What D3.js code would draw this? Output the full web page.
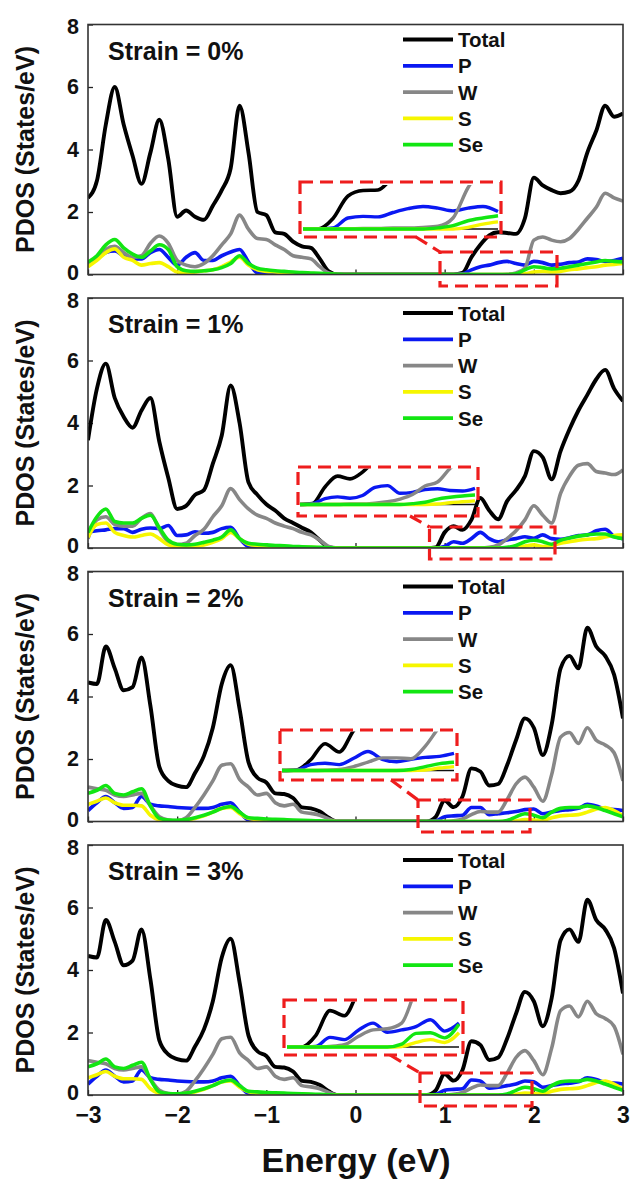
<!DOCTYPE html>
<html>
<head>
<meta charset="utf-8">
<script src="https://cdn.jsdelivr.net/npm/d3@7"></script>
<style>
  body { margin: 0; background: #fff; }
  svg { display: block; }
  text { font-family: Arial, "Liberation Sans", sans-serif; font-weight: bold; fill: #111; }
</style>
</head>
<body>
<div id="chart"></div>
<script>
// energy grid (eV)
const energy = [-3,-2.9,-2.8,-2.7,-2.6,-2.5,-2.4,-2.3,-2.2,-2.1,
  -2,-1.9,-1.8,-1.7,-1.6,-1.5,-1.4,-1.3,-1.2,-1.1,
  -1,-0.9,-0.8,-0.7,-0.6,-0.5,-0.4,-0.3,-0.2,-0.1,
  0,0.1,0.2,0.3,0.4,0.5,0.6,0.7,0.8,0.9,
  1,1.1,1.2,1.3,1.4,1.5,1.6,1.7,1.8,1.9,
  2,2.1,2.2,2.3,2.4,2.5,2.6,2.7,2.8,2.9,
  3];

// Strain = 0%
const total0 = [2.45,3.0,4.8,6.0,4.8,3.8,2.9,3.9,4.95,3.7,
  1.85,2.05,1.85,1.75,2.2,2.7,3.4,5.4,3.9,2.0,
  1.9,1.35,1.3,1.05,0.9,0.85,0.5,0.1,0,0,
  0,0,0,0,0,0,0,0,0,0,
  0,0,0.05,0.55,0.95,1.25,1.35,1.33,1.3,1.8,
  3.1,2.85,2.7,2.6,2.65,3.0,3.9,4.6,5.4,5.05,
  5.15];
const p0 = [0.35,0.5,0.7,0.75,0.6,0.5,0.5,0.7,0.8,0.55,
  0.3,0.55,0.7,0.45,0.45,0.6,0.72,0.8,0.4,0.05,
  0.02,0,0,0,0,0,0,0,0,0,
  0,0,0,0,0,0,0,0,0,0,
  0,0,0.02,0.15,0.25,0.3,0.38,0.42,0.35,0.3,
  0.42,0.38,0.3,0.33,0.38,0.4,0.5,0.48,0.42,0.45,
  0.52];
const w0 = [0.3,0.5,0.8,0.9,0.7,0.55,0.6,1.0,1.23,1.0,
  0.45,0.3,0.25,0.35,0.6,0.95,1.3,1.9,1.45,1.15,
  1.12,0.95,0.8,0.6,0.55,0.5,0.25,0.05,0,0,
  0,0,0,0,0,0,0,0,0,0,
  0,0,0,0,0,0,0,0.01,0.05,0.2,
  1.1,1.2,1.1,1.05,1.15,1.45,1.8,2.15,2.6,2.45,
  2.35];
const s0 = [0.25,0.45,0.7,0.82,0.55,0.45,0.3,0.35,0.38,0.25,
  0.08,0.05,0.08,0.12,0.15,0.25,0.4,0.55,0.3,0.15,
  0.1,0.08,0.06,0.05,0.04,0.03,0.02,0.01,0,0,
  0,0,0,0,0,0,0,0,0,0,
  0,0,0,0,0,0,0,0,0,0.02,
  0.08,0.1,0.08,0.1,0.15,0.18,0.22,0.25,0.3,0.32,
  0.35];
const se0 = [0.4,0.6,0.95,1.12,0.85,0.65,0.55,0.75,0.95,0.8,
  0.25,0.12,0.1,0.12,0.15,0.22,0.35,0.6,0.35,0.2,
  0.15,0.12,0.1,0.08,0.06,0.05,0.04,0.02,0.01,0,
  0,0,0,0,0,0,0,0,0,0,
  0,0,0,0,0,0,0,0,0.02,0.15,
  0.25,0.22,0.18,0.2,0.25,0.3,0.35,0.4,0.45,0.42,
  0.4];

// Strain = 1%
const total1 = [3.45,5.1,5.9,4.8,4.2,3.85,4.4,4.8,3.4,2.25,
  1.25,1.35,1.7,1.85,2.7,3.6,5.2,4.0,2.1,1.7,
  1.4,1.2,0.95,0.8,0.65,0.5,0.25,0.02,0,0,
  0,0,0,0,0,0,0,0,0,0.02,
  0.5,0.7,0.58,0.9,1.6,1.2,0.92,1.5,1.85,2.3,
  3.1,2.9,2.2,3.1,3.8,4.4,4.9,5.4,5.7,5.1,
  4.7];
const p1 = [0.5,0.55,0.58,0.62,0.62,0.5,0.6,0.64,0.62,0.72,
  0.4,0.42,0.52,0.47,0.5,0.62,0.66,0.3,0.05,0.02,
  0,0,0,0,0,0,0,0,0,0,
  0,0,0,0,0,0,0,0,0,0,
  0.05,0.2,0.15,0.3,0.5,0.3,0.2,0.26,0.3,0.36,
  0.31,0.42,0.3,0.28,0.33,0.4,0.42,0.55,0.6,0.38,
  0.3];
const w1 = [0.3,0.9,1.0,0.75,0.7,0.7,0.95,1.1,0.6,0.2,
  0.1,0.15,0.4,0.6,1.0,1.35,1.9,1.55,1.25,1.05,
  0.95,0.8,0.7,0.62,0.5,0.42,0.25,0.05,0,0,
  0,0,0,0,0,0,0,0,0,0,
  0,0,0,0,0,0.02,0.1,0.3,0.55,0.9,
  1.35,1.05,0.8,1.75,2.3,2.65,2.7,2.45,2.4,2.35,
  2.5];
const s1 = [0.35,0.75,0.8,0.5,0.4,0.35,0.4,0.45,0.3,0.1,
  0.05,0.05,0.06,0.1,0.18,0.3,0.5,0.3,0.12,0.08,
  0.06,0.05,0.04,0.03,0.02,0.02,0.01,0,0,0,
  0,0,0,0,0,0,0,0,0,0,
  0,0,0,0,0,0,0,0,0.02,0.06,
  0.1,0.05,0.08,0.15,0.2,0.25,0.28,0.3,0.35,0.4,
  0.42];
const se1 = [0.5,1.0,1.25,0.85,0.8,0.8,0.95,1.05,0.65,0.25,
  0.12,0.1,0.12,0.18,0.25,0.35,0.58,0.3,0.15,0.12,
  0.1,0.08,0.07,0.05,0.04,0.03,0.02,0.01,0,0,
  0,0,0,0,0,0,0,0,0,0,
  0,0,0,0,0,0,0,0.02,0.08,0.2,
  0.25,0.2,0.12,0.25,0.32,0.38,0.42,0.45,0.45,0.35,
  0.3];

// Strain = 2%
const total2 = [4.45,4.4,5.6,4.9,4.2,4.3,5.25,3.7,1.75,1.3,
  1.15,1.1,1.55,2.1,3.0,4.4,5.0,3.6,1.9,1.4,
  1.25,0.9,0.88,0.75,0.45,0.42,0.32,0.12,0,0,
  0,0,0,0,0,0,0,0,0,0.15,
  0.67,0.46,0.8,1.7,1.6,1.15,1.2,1.8,2.6,3.3,
  3.0,2.13,3.1,4.9,5.3,4.9,6.2,5.6,5.3,4.7,
  3.3];
const p2 = [0.35,0.6,0.8,0.6,0.42,0.45,0.8,0.55,0.5,0.48,
  0.45,0.43,0.42,0.42,0.45,0.55,0.6,0.3,0.05,0.02,
  0,0,0,0,0,0,0,0,0,0,
  0,0,0,0,0,0,0,0,0,0.02,
  0.15,0.18,0.2,0.45,0.45,0.22,0.25,0.28,0.32,0.38,
  0.4,0.25,0.3,0.35,0.38,0.42,0.55,0.5,0.4,0.38,
  0.35];
const w2 = [1.1,1.05,1.0,0.85,0.8,0.85,0.9,0.5,0.15,0.05,
  0.03,0.12,0.45,0.85,1.3,1.8,1.85,1.35,1.1,0.85,
  0.9,0.6,0.5,0.55,0.3,0.26,0.2,0.08,0,0,
  0,0,0,0,0,0,0,0,0,0,
  0,0.02,0.08,0.22,0.32,0.3,0.3,0.7,1.2,1.42,
  1.1,0.65,1.5,2.7,2.85,2.5,3.0,2.6,2.45,2.2,
  1.3];
const s2 = [0.55,0.65,0.75,0.6,0.52,0.52,0.5,0.2,0.05,0.02,
  0.02,0.05,0.1,0.18,0.3,0.42,0.45,0.25,0.1,0.06,
  0.05,0.04,0.03,0.02,0.02,0.01,0,0,0,0,
  0,0,0,0,0,0,0,0,0,0,
  0,0,0,0,0,0,0,0,0.02,0.06,
  0.05,0.04,0.12,0.18,0.2,0.22,0.3,0.4,0.45,0.35,
  0.18];
const se2 = [0.9,1.0,1.15,0.9,0.85,0.95,1.05,0.5,0.1,0.05,
  0.04,0.06,0.12,0.2,0.3,0.42,0.48,0.3,0.12,0.1,
  0.08,0.07,0.06,0.05,0.04,0.03,0.02,0.01,0,0,
  0,0,0,0,0,0,0,0,0,0,
  0,0,0,0,0,0,0,0.03,0.15,0.25,
  0.2,0.12,0.3,0.42,0.45,0.45,0.5,0.45,0.35,0.25,
  0.15];

// Strain = 3%
const total3 = [4.45,4.4,5.6,4.9,4.15,4.3,5.3,3.7,1.75,1.3,
  1.15,1.1,1.55,2.1,3.0,4.4,5.0,3.6,1.9,1.4,
  1.25,0.9,0.88,0.75,0.45,0.42,0.32,0.12,0,0,
  0,0,0,0,0,0,0,0,0,0.15,
  0.67,0.46,0.8,1.72,1.6,1.12,1.2,1.8,2.6,3.3,
  3.0,2.2,3.1,4.95,5.3,4.9,6.25,5.6,5.3,4.7,
  3.25];
const p3 = [0.35,0.6,0.8,0.6,0.42,0.45,0.8,0.55,0.5,0.48,
  0.45,0.43,0.42,0.42,0.45,0.55,0.6,0.3,0.05,0.02,
  0,0,0,0,0,0,0,0,0,0,
  0,0,0,0,0,0,0,0,0,0.02,
  0.15,0.18,0.2,0.48,0.45,0.22,0.25,0.3,0.35,0.45,
  0.42,0.25,0.3,0.35,0.38,0.42,0.55,0.5,0.4,0.38,
  0.35];
const w3 = [1.1,1.05,1.0,0.85,0.8,0.85,0.9,0.5,0.15,0.05,
  0.03,0.12,0.45,0.85,1.3,1.8,1.85,1.35,1.1,0.85,
  0.9,0.6,0.5,0.55,0.3,0.26,0.2,0.08,0,0,
  0,0,0,0,0,0,0,0,0,0,
  0,0.02,0.08,0.22,0.32,0.3,0.3,0.7,1.2,1.42,
  1.1,0.65,1.5,2.7,2.85,2.5,3.0,2.6,2.45,2.2,
  1.3];
const s3 = [0.55,0.65,0.75,0.6,0.52,0.52,0.5,0.2,0.05,0.02,
  0.02,0.05,0.1,0.18,0.3,0.42,0.45,0.25,0.1,0.06,
  0.05,0.04,0.03,0.02,0.02,0.01,0,0,0,0,
  0,0,0,0,0,0,0,0,0,0,
  0,0,0,0,0,0,0,0,0.02,0.06,
  0.05,0.04,0.12,0.18,0.2,0.22,0.3,0.4,0.45,0.35,
  0.18];
const se3 = [0.9,1.0,1.15,0.9,0.85,0.95,1.05,0.5,0.1,0.05,
  0.04,0.06,0.12,0.2,0.3,0.42,0.48,0.3,0.12,0.1,
  0.08,0.07,0.06,0.05,0.04,0.03,0.02,0.01,0,0,
  0,0,0,0,0,0,0,0,0,0,
  0,0,0,0,0,0,0,0.03,0.15,0.25,
  0.2,0.12,0.3,0.42,0.45,0.45,0.5,0.45,0.35,0.25,
  0.15];

// insets (magnified conduction band edge)
const insetE0 = [0.95,1.05,1.15,1.25,1.35,1.45,1.55,1.65,1.75,1.85,1.95,2.05,2.15,2.25];
const inTotal0 = [0,0,0.19,0.6,0.7,0.71,0.95,1.2,1.3,1.35,1.33,1.3,1.6,2.5];
const inP0 = [0,0,0.02,0.2,0.23,0.22,0.3,0.37,0.41,0.38,0.33,0.38,0.41,0.32];
const inW0 = [0,0,0,0,0.01,0.01,0.02,0.02,0.03,0.05,0.2,0.75,1.1,1.2];
const inS0 = [0,0,0,0,0,0,0,0,0,0,0,0.03,0.09,0.13];
const inSe0 = [0,0,0,0,0,0,0,0,0,0.02,0.06,0.15,0.2,0.24];

const insetE1 = [0.85,0.95,1.05,1.15,1.25,1.35,1.45,1.55,1.65,1.75,1.85,1.95,2.05,2.15,2.25];
const inTotal1 = [0,0.02,0.39,0.63,0.57,0.72,1.0,1.3,1.4,1.2,1.0,1.2,1.6,1.9,2.2];
const inP1 = [0,0.02,0.13,0.17,0.14,0.2,0.38,0.42,0.25,0.27,0.33,0.35,0.31,0.3,0.36];
const inW1 = [0,0,0,0,0.01,0.01,0.03,0.06,0.12,0.22,0.41,0.5,0.8,1.0,1.1];
const inS1 = [0,0,0,0,0,0,0,0,0,0,0,0.01,0.04,0.06,0.08];
const inSe1 = [0,0,0,0,0,0,0,0,0,0.02,0.05,0.12,0.16,0.19,0.21];

const insetE2 = [0.7,0.8,0.9,1.0,1.1,1.2,1.3,1.4,1.5,1.6,1.7,1.8,1.9];
const inTotal2 = [0,0.01,0.22,0.55,0.38,0.82,1.1,1.4,1.2,1.15,1.3,1.8,2.5];
const inP2 = [0,0.01,0.12,0.15,0.12,0.25,0.39,0.23,0.18,0.23,0.27,0.29,0.35];
const inW2 = [0,0,0,0.005,0.02,0.08,0.17,0.26,0.26,0.24,0.5,0.9,1.2];
const inS2 = [0,0,0,0,0,0,0,0,0,0,0.01,0.05,0.08];
const inSe2 = [0,0,0,0,0,0,0,0,0,0.02,0.08,0.14,0.17];

const insetE3 = [0.75,0.85,0.95,1.05,1.15,1.25,1.35,1.45,1.55,1.65,1.75,1.85,1.95];
const inTotal3 = [0,0,0.2,0.64,0.55,1.0,1.4,1.5,1.2,1.2,1.6,2.5,3.0];
const inP3 = [0,0,0.01,0.17,0.13,0.3,0.42,0.26,0.3,0.36,0.48,0.28,0.42];
const inW3 = [0,0,0,0.01,0.04,0.19,0.3,0.32,0.42,1.0,1.3,1.5,1.6];
const inS3 = [0,0,0,0,0,0,0,0,0.01,0.08,0.13,0.08,0.25];
const inSe3 = [0,0,0,0,0,0,0,0,0.05,0.24,0.25,0.16,0.4];

const strainLabels = ['Strain = 0%', 'Strain = 1%', 'Strain = 2%', 'Strain = 3%'];
const seriesNames = ['Total', 'P', 'W', 'S', 'Se'];
const seriesColors = ['#000000', '#0a18f2', '#878787', '#f6f600', '#12e612'];
const yTicks = [0, 2, 4, 6, 8];
const xTicks = [-3, -2, -1, 0, 1, 2, 3];

const panels = [
  { main: [total0, p0, w0, s0, se0], insetE: insetE0, inset: [inTotal0, inP0, inW0, inS0, inSe0] },
  { main: [total1, p1, w1, s1, se1], insetE: insetE1, inset: [inTotal1, inP1, inW1, inS1, inSe1] },
  { main: [total2, p2, w2, s2, se2], insetE: insetE2, inset: [inTotal2, inP2, inW2, inS2, inSe2] },
  { main: [total3, p3, w3, s3, se3], insetE: insetE3, inset: [inTotal3, inP3, inW3, inS3, inSe3] }
];

// layout (pixels)
const width = 634, height = 1182;
const left = 88, right = 623, panelH = 250;
const tops = [24.5, 298, 571.5, 845];
const insetLayout = [
  { box: [300, 182, 501, 237], plot: [303, 185, 498, 229], zoom: [440, 252, 557, 286], link: [416, 237, 440, 252] },
  { box: [298, 467, 478, 516], plot: [300, 468.5, 475, 504.5], zoom: [429.5, 527, 555, 559], link: [410, 516, 429.5, 527] },
  { box: [280, 730, 457, 780], plot: [282, 731.5, 454, 770.5], zoom: [418, 800, 530, 832], link: [391, 780, 418, 800] },
  { box: [284, 1000, 463, 1055], plot: [287, 1001.5, 459, 1047], zoom: [420, 1073, 532, 1106], link: [390, 1055, 420, 1073] }
];

const svg = d3.select('#chart').append('svg')
  .attr('width', width).attr('height', height);
svg.append('rect').attr('width', width).attr('height', height).attr('fill', '#fff');

const x = d3.scaleLinear().domain([-3, 3]).range([left, right]);
const red = '#ee1d1d';

panels.forEach((pd, k) => {
  const top = tops[k];
  const y = d3.scaleLinear().domain([0, 8]).range([top + panelH, top]);
  const g = svg.append('g');

  const clipId = 'clip' + k;
  svg.append('clipPath').attr('id', clipId)
    .append('rect').attr('x', left).attr('y', top).attr('width', right - left).attr('height', panelH);

  // axes with inward ticks
  const yAxis = g.append('g').attr('transform', `translate(${left},0)`)
    .call(d3.axisLeft(y).tickValues(yTicks).tickSize(-5).tickPadding(9).tickFormat(d3.format('d')));
  // nudge 0 up and 8 down so neighbouring panels' labels don't touch
  yAxis.selectAll('text')
    .style('font-size', '21.5px')
    .attr('dy', d => d === 0 ? '0.22em' : d === 8 ? '0.42em' : '0.32em');

  const xAxis = g.append('g').attr('transform', `translate(0,${top + panelH})`)
    .call(d3.axisBottom(x).tickValues(xTicks).tickSize(-5).tickPadding(12)
      .tickFormat(k === 3 ? d3.format('d') : () => ''));
  xAxis.selectAll('text').style('font-size', '23px');
  g.selectAll('.domain').remove();
  g.selectAll('.tick line').attr('stroke', '#222').attr('stroke-width', 1.3);

  // curves
  const line = d3.line()
    .x((d, i) => x(energy[i]))
    .y(d => y(d))
    .curve(d3.curveMonotoneX);
  const curves = g.append('g').attr('clip-path', `url(#${clipId})`);
  pd.main.forEach((vals, s) => {
    curves.append('path')
      .datum(vals)
      .attr('d', line)
      .attr('fill', 'none')
      .attr('stroke', seriesColors[s])
      .attr('stroke-width', s === 0 ? 3.9 : 3.6)
      .attr('stroke-linejoin', 'round');
  });

  // frame
  g.append('rect')
    .attr('x', left).attr('y', top).attr('width', right - left).attr('height', panelH)
    .attr('fill', 'none').attr('stroke', '#333').attr('stroke-width', 1.6);

  // y title
  g.append('text')
    .attr('transform', `translate(34,${top + panelH / 2}) rotate(-90)`)
    .attr('text-anchor', 'middle')
    .style('font-size', '25px')
    .text('PDOS (States/eV)');

  // strain label
  g.append('text')
    .attr('x', 108).attr('y', top + 35)
    .style('font-size', '25px')
    .text(strainLabels[k]);

  // legend
  const legend = g.selectAll('.legend')
    .data(seriesNames)
    .enter()
    .append('g')
    .attr('class', 'legend')
    .attr('transform', (d, i) => `translate(403,${top + 15 + i * 26.3})`);
  legend.append('line')
    .attr('x1', 0).attr('x2', 50)
    .attr('stroke', (d, i) => seriesColors[i])
    .attr('stroke-width', 3.8);
  legend.append('text')
    .attr('x', 55).attr('y', 7.5)
    .style('font-size', '20.5px')
    .text(d => d);

  // inset
  const L = insetLayout[k];
  const [px0, py0, px1, py1] = L.plot;
  const xi = d3.scaleLinear().domain(d3.extent(pd.insetE)).range([px0, px1]);
  const yi = d3.scaleLinear().domain([0, 0.8]).range([py1, py0]);
  const iclip = 'iclip' + k;
  svg.append('clipPath').attr('id', iclip)
    .append('rect').attr('x', px0 - 1).attr('y', py0).attr('width', px1 - px0 + 2).attr('height', py1 - py0 + 2.5);

  g.append('line')
    .attr('x1', px0).attr('x2', px1).attr('y1', py1).attr('y2', py1)
    .attr('stroke', '#111').attr('stroke-width', 1.5);

  const iline = d3.line()
    .x((d, i) => xi(pd.insetE[i]))
    .y(d => yi(d))
    .curve(d3.curveMonotoneX);
  const icurves = g.append('g').attr('clip-path', `url(#${iclip})`);
  pd.inset.forEach((vals, s) => {
    icurves.append('path')
      .datum(vals)
      .attr('d', iline)
      .attr('fill', 'none')
      .attr('stroke', seriesColors[s])
      .attr('stroke-width', s === 0 ? 3.6 : 3.4)
      .attr('stroke-linejoin', 'round');
  });

  const dash = { fill: 'none', stroke: red, 'stroke-width': 3.2, 'stroke-dasharray': '13,7' };
  const bigBox = g.append('rect')
    .attr('x', L.box[0]).attr('y', L.box[1])
    .attr('width', L.box[2] - L.box[0]).attr('height', L.box[3] - L.box[1]);
  const smallBox = g.append('rect')
    .attr('x', L.zoom[0]).attr('y', L.zoom[1])
    .attr('width', L.zoom[2] - L.zoom[0]).attr('height', L.zoom[3] - L.zoom[1]);
  const link = g.append('line')
    .attr('x1', L.link[0]).attr('y1', L.link[1]).attr('x2', L.link[2]).attr('y2', L.link[3]);
  [bigBox, smallBox, link].forEach(el => Object.entries(dash).forEach(([a, v]) => el.attr(a, v)));
});

// x title
svg.append('text')
  .attr('x', 356).attr('y', 1172)
  .attr('text-anchor', 'middle')
  .style('font-size', '34px')
  .text('Energy (eV)');
</script>
</body>
</html>
